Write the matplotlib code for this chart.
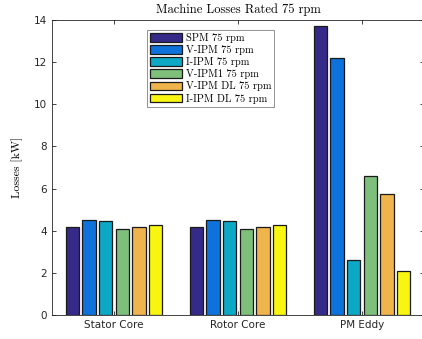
import matplotlib
matplotlib.use("Agg")
import matplotlib.pyplot as plt
import numpy as np

categories = ['Stator Core', 'Rotor Core', 'PM Eddy']
series = ['SPM 75 rpm', 'V-IPM 75 rpm', 'I-IPM 75 rpm', 'V-IPM1 75 rpm',
          'V-IPM DL 75 rpm', 'I-IPM DL 75 rpm']
spm = [4.18, 4.18, 13.72]
v_ipm = [4.5, 4.5, 12.2]
i_ipm = [4.45, 4.45, 2.63]
v_ipm1 = [4.08, 4.08, 6.58]
v_ipm_dl = [4.18, 4.18, 5.74]
i_ipm_dl = [4.25, 4.25, 2.1]
values = [spm, v_ipm, i_ipm, v_ipm1, v_ipm_dl, i_ipm_dl]
colors = ['#352a87', '#0d72dc', '#0ca8c6', '#7dbf7b', '#f0b44c', '#f8f510']

serif = 'cmr10'
W, H = 422, 339
fig = plt.figure(figsize=(W / 100, H / 100), dpi=100)
ax = fig.add_axes([52 / W, (H - 315) / H, (424 - 52) / W, (315 - 20) / H])

x = np.arange(1, len(categories) + 1)
pitch = 0.134
width = 0.107
for i, (vals, c, name) in enumerate(zip(values, colors, series)):
    ax.bar(x + (i - 2.5) * pitch, vals, width, color=c, edgecolor='#1a1a1a',
           linewidth=0.9, label=name)

ax.set_xlim(0.5, 3.5)
ax.set_ylim(0, 14)
ax.set_xticks(x)
ax.set_xticklabels(categories)
ax.set_yticks(np.arange(0, 15, 2))
ax.tick_params(direction='in', top=True, right=True, labelsize=7.5,
               colors='#262626', length=3, width=0.6)
for s in ax.spines.values():
    s.set_color('#262626')
    s.set_linewidth(0.6)
ax.spines['right'].set_visible(False)

ax.set_title('Machine Losses Rated 75 rpm', fontfamily=serif, fontsize=9, pad=5)
ax.set_ylabel('Losses [kW]', fontfamily=serif, fontsize=8.5, labelpad=8)

leg = ax.legend(loc='upper left', bbox_to_anchor=((147 - 52) / 372, 1 - 10 / 295),
                prop={'family': serif, 'size': 7.5}, fancybox=False,
                edgecolor='#808080', framealpha=1, handlelength=3.1,
                handleheight=0.9, handletextpad=0.3, labelspacing=0.2,
                borderpad=0.3, borderaxespad=0)
leg.get_frame().set_linewidth(0.6)

fig.savefig('out.png', dpi=100)
